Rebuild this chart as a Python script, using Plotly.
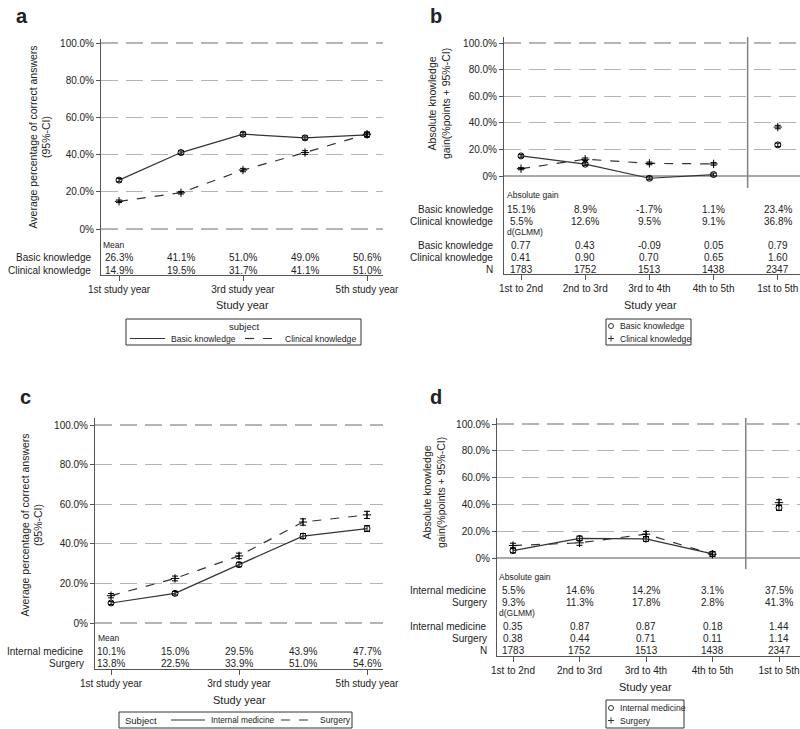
import plotly.graph_objects as go

W, H = 800, 729
FONT = "Liberation Sans, Arial, sans-serif"
TXT = "#222222"
GRID = "#b4b4b4"
AXIS = "#555555"

# ---------------- data ----------------
x_pos = [1, 2, 3, 4, 5]
year_tick_labels = ["1st study year", "", "3rd study year", "", "5th study year"]
period_labels = ["1st to 2nd", "2nd to 3rd", "3rd to 4th", "4th to 5th", "1st to 5th"]
y_tick_vals = [0, 20, 40, 60, 80, 100]
y_tick_labels = ["0%", "20.0%", "40.0%", "60.0%", "80.0%", "100.0%"]

# panel a
basic_mean = [26.3, 41.1, 51.0, 49.0, 50.6]
basic_ci = [0.9, 0.9, 1.0, 1.0, 1.1]
clinical_mean = [14.9, 19.5, 31.7, 41.1, 51.0]
clinical_ci = [0.7, 0.7, 0.9, 1.0, 1.2]

# panel b
basic_gain = [15.1, 8.9, -1.7, 1.1, 23.4]
basic_gain_ci = [1.0, 1.1, 1.1, 1.1, 1.3]
clinical_gain = [5.5, 12.6, 9.5, 9.1, 36.8]
clinical_gain_ci = [0.8, 1.0, 1.0, 1.0, 1.3]
basic_d = ["0.77", "0.43", "-0.09", "0.05", "0.79"]
clinical_d = ["0.41", "0.90", "0.70", "0.65", "1.60"]
n_pairs = ["1783", "1752", "1513", "1438", "2347"]

# panel c
im_mean = [10.1, 15.0, 29.5, 43.9, 47.7]
im_ci = [0.8, 0.9, 1.1, 1.3, 1.5]
surg_mean = [13.8, 22.5, 33.9, 51.0, 54.6]
surg_ci = [1.1, 1.2, 1.4, 1.6, 1.8]

# panel d
im_gain = [5.5, 14.6, 14.2, 3.1, 37.5]
im_gain_ci = [1.6, 1.7, 1.8, 1.6, 2.0]
surg_gain = [9.3, 11.3, 17.8, 2.8, 41.3]
surg_gain_ci = [1.7, 1.8, 2.0, 1.7, 2.2]
im_d = ["0.35", "0.87", "0.87", "0.18", "1.44"]
surg_d = ["0.38", "0.44", "0.71", "0.11", "1.14"]


def pct(v):
    return f"{v:.1f}%"


# ---------------- geometry (pixels) ----------------
def geom(left, right, top, bottom, x1, dx, y0, y100):
    k = (y0 - y100) / 100.0
    return dict(
        xdomain=[left / W, right / W],
        ydomain=[1 - bottom / H, 1 - top / H],
        xrange=[1 + (left - x1) / dx, 1 + (right - x1) / dx],
        yrange=[-(bottom - y0) / k, (y0 - top) / k],
    )


G = {
    1: geom(101, 383, 39, 275, 119, 62, 229, 43),
    2: geom(504, 800, 37, 274, 521, 64.2, 176, 43),
    3: geom(95, 383, 418, 669, 111, 64, 623, 425),
    4: geom(497, 800, 418, 656, 513, 66.5, 558, 424),
}


def py(p):
    return 1 - p / H


def pxx(p):
    return p / W


fig = go.Figure()
annotations = []
shapes = []


def ax_name(i, a):
    return a if i == 1 else f"{a}{i}"


def marker_for(symbol):
    if symbol == "circle-open":
        return dict(symbol="circle-open", size=6, color="black",
                    line=dict(width=1, color="black"))
    return dict(symbol="cross-thin", size=6, color="black",
                line=dict(width=1, color="black"))


def add_series(i, y, err, dash, symbol, name, connect_all=True):
    xa = "x" if i == 1 else f"x{i}"
    ya = "y" if i == 1 else f"y{i}"
    marker = marker_for(symbol)
    n = 5 if connect_all else 4
    fig.add_trace(go.Scatter(
        x=x_pos[:n], y=y[:n], mode="lines+markers", xaxis=xa, yaxis=ya,
        line=dict(color="#333333", width=1.2, dash=dash),
        marker=marker, name=name, showlegend=False,
        error_y=dict(type="data", array=err[:n], width=3, thickness=1,
                     color="black"),
    ))
    if not connect_all:
        fig.add_trace(go.Scatter(
            x=x_pos[4:], y=y[4:], mode="markers", xaxis=xa, yaxis=ya,
            marker=marker, name=name, showlegend=False,
            error_y=dict(type="data", array=err[4:], width=3, thickness=1,
                         color="black"),
        ))


add_series(1, basic_mean, basic_ci, "solid", "circle-open", "Basic knowledge")
add_series(1, clinical_mean, clinical_ci, "dash", "cross", "Clinical knowledge")
add_series(2, basic_gain, basic_gain_ci, "solid", "circle-open", "Basic knowledge",
           connect_all=False)
add_series(2, clinical_gain, clinical_gain_ci, "dash", "cross", "Clinical knowledge",
           connect_all=False)
add_series(3, im_mean, im_ci, "solid", "circle-open", "Internal medicine")
add_series(3, surg_mean, surg_ci, "dash", "cross", "Surgery")
add_series(4, im_gain, im_gain_ci, "solid", "circle-open", "Internal medicine",
           connect_all=False)
add_series(4, surg_gain, surg_gain_ci, "dash", "cross", "Surgery",
           connect_all=False)

# ---------------- axes ----------------
layout = {}
for i in range(1, 5):
    g = G[i]
    xa = ax_name(i, "xaxis")
    ya = ax_name(i, "yaxis")
    ya_ref = "y" if i == 1 else f"y{i}"
    xa_ref = "x" if i == 1 else f"x{i}"
    if i in (1, 3):
        tv, tt = x_pos[::2], year_tick_labels[::2]
    else:
        tv, tt = x_pos, period_labels
    layout[xa] = dict(
        domain=g["xdomain"], range=g["xrange"], anchor=ya_ref,
        tickvals=tv, ticktext=tt, ticks="outside", ticklen=5, tickcolor=AXIS,
        showgrid=False, zeroline=False, showline=True, linecolor=AXIS,
        linewidth=1, tickfont=dict(size=10, color=TXT, family=FONT),
        fixedrange=True,
    )
    layout[ya] = dict(
        domain=g["ydomain"], range=g["yrange"], anchor=xa_ref,
        tickvals=y_tick_vals, ticktext=y_tick_labels, ticks="outside",
        ticklen=4, tickcolor=AXIS, showgrid=True, gridcolor=GRID,
        gridwidth=1.2, griddash="17px,8px",
        zeroline=(i in (2, 4)), zerolinecolor="#aaaaaa", zerolinewidth=1.2,
        showline=True, linecolor=AXIS, linewidth=1,
        tickfont=dict(size=10, color=TXT, family=FONT), fixedrange=True,
    )

# vertical separators in b and d
for i, xv, ybot_px in ((2, 4.53, 188), (4, 4.5, 569)):
    g = G[i]
    shapes.append(dict(
        type="line", xref=f"x{i}", yref="paper",
        x0=xv, x1=xv, y0=py(ybot_px), y1=g["ydomain"][1],
        line=dict(color="#808080", width=1.5),
    ))


def txt(x, y, s, size=10, xanchor="center", xref="paper", yanchor="middle",
        **kw):
    annotations.append(dict(x=x, y=y, xref=xref, yref="paper", text=s,
                            showarrow=False, xanchor=xanchor, yanchor=yanchor,
                            font=dict(size=size, color=TXT, family=FONT), **kw))


# panel letters
for letter, xp, yp in (("a", 14, 16), ("b", 428, 16), ("c", 18, 397), ("d", 428, 397)):
    txt(pxx(xp), py(yp), f"<b>{letter}</b>", size=20, xanchor="left")

# y titles
txt(pxx(39.5), py(137), "Average percentage of correct answers<br>(95%-CI)",
    size=10.5, textangle=-90)
txt(pxx(439), py(103), "Absolute knowledge<br>gain(%points + 95%-CI)",
    size=10.5, textangle=-90)
txt(pxx(31.5), py(525), "Average percentage of correct answers<br>(95%-CI)",
    size=10.5, textangle=-90)
txt(pxx(434), py(493), "Absolute knowledge<br>gain(%points + 95%-CI)",
    size=10.5, textangle=-90)

# x titles
txt(pxx(242), py(305), "Study year", size=11)
txt(pxx(650), py(305), "Study year", size=11)
txt(pxx(239), py(700), "Study year", size=11)
txt(pxx(645), py(687), "Study year", size=11)


# tables
def table_rows(i, label_right, head_rows, rows):
    xr = "x" if i == 1 else f"x{i}"
    for text, left_px, ypx in head_rows:
        txt(pxx(left_px), py(ypx), text, size=8.5, xanchor="left")
    for label, values, ypx in rows:
        txt(pxx(label_right), py(ypx), label, size=10, xanchor="right")
        for xv, v in zip(x_pos, values):
            txt(xv, py(ypx), v, size=10, xref=xr)


table_rows(1, 93, [("Mean", 101, 245)], [
    ("Basic knowledge", [pct(v) for v in basic_mean], 258),
    ("Clinical knowledge", [pct(v) for v in clinical_mean], 270),
])
table_rows(2, 495, [("Absolute gain", 505, 195), ("d(GLMM)", 505, 232)], [
    ("Basic knowledge", [pct(v) for v in basic_gain], 209),
    ("Clinical knowledge", [pct(v) for v in clinical_gain], 221),
    ("Basic knowledge", basic_d, 245),
    ("Clinical knowledge", clinical_d, 257),
    ("N", n_pairs, 269),
])
table_rows(3, 86, [("Mean", 96, 638)], [
    ("Internal medicine", [pct(v) for v in im_mean], 651),
    ("Surgery", [pct(v) for v in surg_mean], 663),
])
table_rows(4, 489, [("Absolute gain", 497, 577), ("d(GLMM)", 497, 613)], [
    ("Internal medicine", [pct(v) for v in im_gain], 590),
    ("Surgery", [pct(v) for v in surg_gain], 602),
    ("Internal medicine", im_d, 626),
    ("Surgery", surg_d, 638),
    ("N", n_pairs, 650),
])


# ---------------- hand-drawn legends ----------------
def box(x0, x1, y0, y1):
    shapes.append(dict(type="rect", xref="paper", yref="paper",
                       x0=pxx(x0), x1=pxx(x1), y0=py(y1), y1=py(y0),
                       line=dict(color="#333333", width=1)))


def hline(x0, x1, y, dash):
    shapes.append(dict(type="line", xref="paper", yref="paper",
                       x0=pxx(x0), x1=pxx(x1), y0=py(y), y1=py(y),
                       line=dict(color="#333333", width=1.2, dash=dash)))


def circ(cx, cy, r=2.5):
    shapes.append(dict(type="circle", xref="paper", yref="paper",
                       x0=pxx(cx - r), x1=pxx(cx + r), y0=py(cy + r), y1=py(cy - r),
                       line=dict(color="#333333", width=1)))


def plus(cx, cy, r=3):
    shapes.append(dict(type="line", xref="paper", yref="paper",
                       x0=pxx(cx - r), x1=pxx(cx + r), y0=py(cy), y1=py(cy),
                       line=dict(color="#333333", width=1)))
    shapes.append(dict(type="line", xref="paper", yref="paper",
                       x0=pxx(cx), x1=pxx(cx), y0=py(cy - r), y1=py(cy + r),
                       line=dict(color="#333333", width=1)))


LEG = 8.6

# legend a
box(126, 361, 319, 345)
txt(pxx(243.5), py(326.5), "subject", size=9.5)
hline(130, 165, 338.5, "solid")
txt(pxx(169), py(338.5), "Basic knowledge", size=LEG, xanchor="left")
hline(245, 279, 338.5, "dash")
txt(pxx(283), py(338.5), "Clinical knowledge", size=LEG, xanchor="left")

# legend b
box(606, 691, 319, 345)
circ(611, 326)
txt(pxx(618), py(326), "Basic knowledge", size=LEG, xanchor="left")
plus(611, 338.5)
txt(pxx(618), py(338.5), "Clinical knowledge", size=LEG, xanchor="left")

# legend c
box(119, 352, 712, 728)
txt(pxx(123), py(720), "Subject", size=9.5, xanchor="left")
hline(171, 205, 720, "solid")
txt(pxx(209), py(720), "Internal medicine", size=8.3, xanchor="left")
hline(281, 314, 720, "dash")
txt(pxx(318), py(720), "Surgery", size=LEG, xanchor="left")

# legend d
box(606, 684, 700, 728)
circ(611, 708)
txt(pxx(618), py(708), "Internal medicine", size=LEG, xanchor="left")
plus(611, 720.5)
txt(pxx(618), py(720.5), "Surgery", size=LEG, xanchor="left")

layout.update(
    width=W, height=H,
    margin=dict(l=0, r=0, t=0, b=0, autoexpand=False),
    paper_bgcolor="white", plot_bgcolor="white",
    font=dict(family=FONT, color=TXT),
    annotations=annotations, shapes=shapes,
    showlegend=False,
)
fig.update_layout(layout)
fig.write_html(
    "out.html",
    config={"displayModeBar": False, "staticPlot": True},
    post_script="document.body.style.margin='0';document.body.style.padding='0';"
                "document.body.style.overflow='hidden';",
)
